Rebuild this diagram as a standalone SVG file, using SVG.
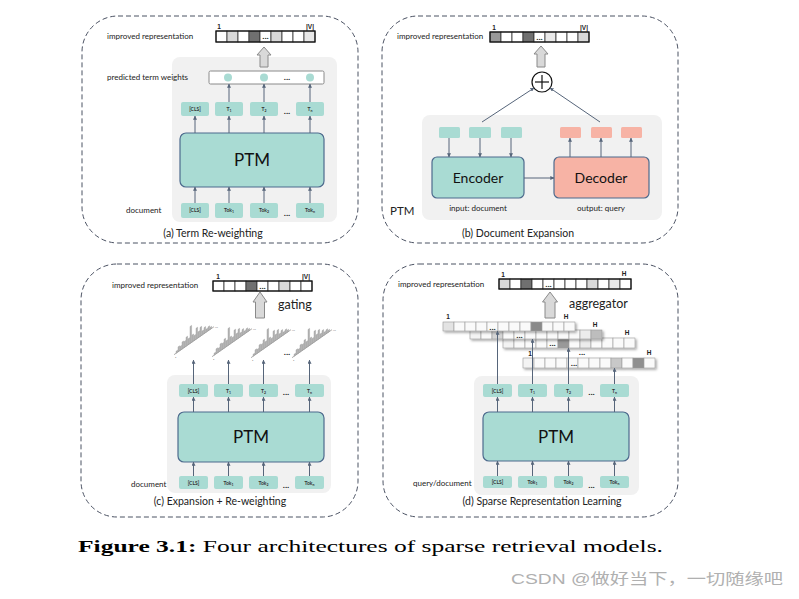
<svg xmlns="http://www.w3.org/2000/svg" xmlns:xlink="http://www.w3.org/1999/xlink" width="799" height="599" viewBox="0 0 799 599">
<defs>
<style>
.frame{fill:none;stroke:#4b5263;stroke-width:1;stroke-dasharray:5 3}
.bg{fill:#f1f1f1}
.tok{fill:#a9dbd3}
.ptm{fill:#a9dbd3;stroke:#4d6a8d;stroke-width:1.2}
.dec{fill:#f7b3a5;stroke:#4d6a8d;stroke-width:1.2}
.pk{fill:#f7b3a5}
.t{font-family:Lato,"Liberation Sans",sans-serif;fill:#222}
.tt{font-family:Lato,"Liberation Sans",sans-serif;font-size:5px;font-weight:bold;fill:#333;text-anchor:middle}
.lab{font-family:Lato,"Liberation Sans",sans-serif;font-size:8px;fill:#222}
.cap{font-family:Lato,"Liberation Sans",sans-serif;font-size:10.5px;fill:#222;text-anchor:middle}
.big{font-family:Lato,"Liberation Sans",sans-serif;fill:#111;text-anchor:middle}
.cell{stroke:#333;stroke-width:0.8}
.w{fill:#fff}.g1{fill:#d9d9d9}.g2{fill:#707070}.g3{fill:#999}.g4{fill:#e8e8e8}
.dots{font-family:"Liberation Sans",sans-serif;font-size:8px;font-weight:bold;fill:#222;text-anchor:middle}
.num{font-family:"Liberation Sans",sans-serif;font-size:6.5px;font-weight:bold;fill:#222;text-anchor:middle}
.blk{fill:#d9d9d9;stroke:#8a8a8a;stroke-width:1}
.con{stroke:#56657a;stroke-width:1;fill:none;marker-end:url(#ah)}
.bar{fill:#b5b5b5;stroke:#8c8c8c;stroke-width:0.3}
.lcell{stroke:#9a9a9a;stroke-width:0.6}
</style>
<marker id="ah" viewBox="0 0 6 6" refX="5.5" refY="3" markerWidth="4" markerHeight="4" orient="auto" markerUnits="userSpaceOnUse">
<path d="M0,0 L6,3 L0,6 z" fill="#56657a"/>
</marker>
<filter id="sh" x="-5%" y="-30%" width="110%" height="180%">
<feDropShadow dx="1.5" dy="1.5" stdDeviation="1" flood-color="#000" flood-opacity="0.35"/>
</filter>
<g id="hist">
<g transform="skewY(-35)">
<line x1="-1" y1="0" x2="39" y2="0" stroke="#8c8c8c" stroke-width="0.6"/>
<rect class="bar" x="1" y="-2" width="1.6" height="2"/>
<rect class="bar" x="3" y="-5" width="1.6" height="5"/>
<rect class="bar" x="5" y="-4" width="1.6" height="4"/>
<rect class="bar" x="7" y="-7" width="1.6" height="7"/>
<rect class="bar" x="9" y="-6" width="1.6" height="6"/>
<rect class="bar" x="11" y="-9" width="1.6" height="9"/>
<rect class="bar" x="13" y="-6" width="1.6" height="6"/>
<rect class="bar" x="15" y="-17" width="1.6" height="17"/>
<rect class="bar" x="17" y="-7" width="1.6" height="7"/>
<rect class="bar" x="19" y="-5" width="1.6" height="5"/>
<rect class="bar" x="21" y="-11" width="1.6" height="11"/>
<rect class="bar" x="23" y="-6" width="1.6" height="6"/>
<rect class="bar" x="25" y="-9" width="1.6" height="9"/>
<rect class="bar" x="27" y="-4" width="1.6" height="4"/>
<rect class="bar" x="29" y="-6" width="1.6" height="6"/>
<rect class="bar" x="31" y="-3" width="1.6" height="3"/>
<rect class="bar" x="33" y="-4" width="1.6" height="4"/>
<rect class="bar" x="35" y="-2" width="1.6" height="2"/>
</g>
<text x="0" y="4" font-family="Liberation Sans,sans-serif" font-size="2.5" fill="#555">1</text>
<text x="40" y="-26" font-family="Liberation Sans,sans-serif" font-size="2.5" fill="#555">|V|</text>
</g>
</defs>

<rect width="799" height="599" fill="#fff"/>

<!-- Panel frames -->
<g id="panel-a-frame"><rect class="frame" x="82" y="16" width="276" height="227" rx="36"/></g>
<g id="panel-b-frame"><rect class="frame" x="382" y="16" width="296" height="227" rx="36"/></g>
<g id="panel-c-frame"><rect class="frame" x="81" y="264" width="277" height="253" rx="36"/></g>
<g id="panel-d-frame"><rect class="frame" x="383" y="264" width="295" height="253" rx="36"/></g>

<!-- Gray backgrounds -->
<rect class="bg" x="172" y="57" width="165" height="165" rx="8"/>
<rect class="bg" x="422" y="115" width="240" height="105" rx="8"/>
<rect class="bg" x="167" y="375" width="164" height="118" rx="8"/>
<rect class="bg" x="474" y="376" width="165" height="119" rx="8"/>

<!-- ===== Panel (a) ===== -->
<g id="a-vector">
<text class="lab" x="107" y="39">improved representation</text>
<rect class="cell w" x="216" y="31" width="11" height="11"/>
<rect class="cell g1" x="227" y="31" width="11" height="11"/>
<rect class="cell w" x="238" y="31" width="11" height="11"/>
<rect class="cell g2" x="249" y="31" width="11" height="11"/>
<rect class="cell w" x="260" y="31" width="11" height="11"/>
<text class="dots" x="265.5" y="39">...</text>
<rect class="cell g1" x="271" y="31" width="11" height="11"/>
<rect class="cell w" x="282" y="31" width="11" height="11"/>
<rect class="cell w" x="293" y="31" width="11" height="11"/>
<rect class="cell g4" x="304" y="31" width="11" height="11"/>
<rect x="216" y="31" width="99" height="11" fill="none" stroke="#111" stroke-width="1.2"/>
<text class="num" x="219" y="28.5">1</text>
<text class="num" x="310" y="28.5">|V|</text>
<path class="blk" d="M264,47 L271,55 L268,55 L268,67 L260,67 L260,55 L257,55 Z"/>
</g>
<g id="a-weights">
<text class="lab" x="107" y="80">predicted term weights</text>
<rect x="209" y="71" width="115" height="13" rx="1.5" fill="#fff" stroke="#8a8a8a" stroke-width="1"/>
<circle cx="228" cy="77.5" r="4" fill="#a9dbd3"/>
<circle cx="264" cy="77.5" r="4" fill="#a9dbd3"/>
<circle cx="310" cy="77.5" r="4" fill="#a9dbd3"/>
<text class="dots" x="287" y="80">...</text>
</g>
<g id="a-top-tokens">
<rect class="tok" x="181" y="102" width="28" height="14" rx="2"/><text class="tt" x="195" y="111">[CLS]</text>
<rect class="tok" x="215" y="102" width="28" height="14" rx="2"/><text class="tt" x="229" y="111">T<tspan font-size="3.5" dy="1">1</tspan></text>
<rect class="tok" x="250" y="102" width="28" height="14" rx="2"/><text class="tt" x="264" y="111">T<tspan font-size="3.5" dy="1">2</tspan></text>
<text class="dots" x="287" y="114">...</text>
<rect class="tok" x="296" y="102" width="28" height="14" rx="2"/><text class="tt" x="310" y="111">T<tspan font-size="3.5" dy="1">n</tspan></text>
</g>
<g id="a-ptm">
<rect class="ptm" x="180" y="133" width="144" height="54" rx="6"/>
<text class="big" x="252" y="166" font-size="17">PTM</text>
</g>
<g id="a-bottom-tokens">
<text class="lab" x="126" y="213">document</text>
<rect class="tok" x="181" y="203" width="28" height="15" rx="2"/><text class="tt" x="195" y="212">[CLS]</text>
<rect class="tok" x="215" y="203" width="28" height="15" rx="2"/><text class="tt" x="229" y="212">Tok<tspan font-size="3.5" dy="1">1</tspan></text>
<rect class="tok" x="250" y="203" width="28" height="15" rx="2"/><text class="tt" x="264" y="212">Tok<tspan font-size="3.5" dy="1">2</tspan></text>
<text class="dots" x="287" y="216">...</text>
<rect class="tok" x="296" y="203" width="28" height="15" rx="2"/><text class="tt" x="310" y="212">Tok<tspan font-size="3.5" dy="1">n</tspan></text>
</g>
<text class="cap" x="213" y="237">(a) Term Re-weighting</text>

<!-- ===== Panel (b) ===== -->
<g id="b-vector">
<text class="lab" x="397" y="39">improved representation</text>
<rect class="cell g3" x="490" y="32" width="11" height="10"/>
<rect class="cell w" x="501" y="32" width="11" height="10"/>
<rect class="cell w" x="512" y="32" width="11" height="10"/>
<rect class="cell g2" x="523" y="32" width="11" height="10"/>
<rect class="cell w" x="534" y="32" width="11" height="10"/>
<text class="dots" x="539.5" y="39.5">...</text>
<rect class="cell g4" x="545" y="32" width="11" height="10"/>
<rect class="cell w" x="556" y="32" width="11" height="10"/>
<rect class="cell w" x="567" y="32" width="11" height="10"/>
<rect class="cell g1" x="578" y="32" width="11" height="10"/>
<rect x="490" y="32" width="99" height="10" fill="none" stroke="#111" stroke-width="1.2"/>
<text class="num" x="494" y="29.5">1</text>
<text class="num" x="584" y="29.5">|V|</text>
<path class="blk" d="M541,46 L548,54 L545,54 L545,67 L537,67 L537,54 L534,54 Z"/>
</g>
<g id="b-plus">
<circle cx="542" cy="82" r="10" fill="#fff" stroke="#111" stroke-width="1.2"/>
<line x1="535" y1="82" x2="549" y2="82" stroke="#111" stroke-width="1.2"/>
<line x1="542" y1="75" x2="542" y2="89" stroke="#111" stroke-width="1.2"/>
</g>
<g id="b-enc-tokens">
<rect class="tok" x="439" y="127" width="21" height="11" rx="1.5"/>
<rect class="tok" x="469" y="127" width="22" height="11" rx="1.5"/>
<rect class="tok" x="501" y="127" width="21" height="11" rx="1.5"/>
</g>
<g id="b-dec-tokens">
<rect class="pk" x="560" y="127" width="21" height="11" rx="1.5"/>
<rect class="pk" x="591" y="127" width="21" height="11" rx="1.5"/>
<rect class="pk" x="621" y="127" width="21" height="11" rx="1.5"/>
</g>
<g id="b-encoder">
<rect class="ptm" x="432" y="157" width="92" height="41" rx="5"/>
<text class="big" x="478" y="183" font-size="14">Encoder</text>
<text class="lab" x="478" y="211" text-anchor="middle" font-size="7.5">input: document</text>
</g>
<g id="b-decoder">
<rect class="dec" x="554" y="157" width="95" height="41" rx="5"/>
<text class="big" x="601" y="183" font-size="14">Decoder</text>
<text class="lab" x="601" y="211" text-anchor="middle" font-size="7.5">output: query</text>
</g>
<text class="t" x="390" y="215" font-size="11.5">PTM</text>
<text class="cap" x="518" y="237">(b) Document Expansion</text>

<!-- ===== Panel (c) ===== -->
<g id="c-vector">
<text class="lab" x="112" y="288">improved representation</text>
<rect class="cell w" x="213" y="281" width="11" height="10"/>
<rect class="cell w" x="224" y="281" width="11" height="10"/>
<rect class="cell w" x="235" y="281" width="11" height="10"/>
<rect class="cell g2" x="246" y="281" width="11" height="10"/>
<rect class="cell w" x="257" y="281" width="11" height="10"/>
<text class="dots" x="262.5" y="288.5">...</text>
<rect class="cell w" x="268" y="281" width="11" height="10"/>
<rect class="cell g1" x="279" y="281" width="11" height="10"/>
<rect class="cell w" x="290" y="281" width="11" height="10"/>
<rect class="cell w" x="301" y="281" width="11" height="10"/>
<rect x="213" y="281" width="99" height="10" fill="none" stroke="#111" stroke-width="1.2"/>
<text class="num" x="218" y="278.5">1</text>
<text class="num" x="306" y="278.5">|V|</text>
<path class="blk" d="M260,292 L267,302 L264.5,302 L264.5,318 L255.5,318 L255.5,302 L253,302 Z"/>
<text class="t" x="278" y="309" font-size="12.5">gating</text>
</g>
<g id="c-histograms">
<use xlink:href="#hist" href="#hist" transform="translate(175,354)"/>
<use xlink:href="#hist" href="#hist" transform="translate(213,356)"/>
<use xlink:href="#hist" href="#hist" transform="translate(252,357)"/>
<text class="dots" x="287" y="355">...</text>
<use xlink:href="#hist" href="#hist" transform="translate(293,357)"/>
</g>
<g id="c-top-tokens">
<rect class="tok" x="179" y="384" width="29" height="13" rx="2"/><text class="tt" x="193.5" y="392.5">[CLS]</text>
<rect class="tok" x="214" y="384" width="29" height="13" rx="2"/><text class="tt" x="228.5" y="392.5">T<tspan font-size="3.5" dy="1">1</tspan></text>
<rect class="tok" x="249" y="384" width="29" height="13" rx="2"/><text class="tt" x="263.5" y="392.5">T<tspan font-size="3.5" dy="1">2</tspan></text>
<text class="dots" x="286" y="395">...</text>
<rect class="tok" x="295" y="384" width="29" height="13" rx="2"/><text class="tt" x="309.5" y="392.5">T<tspan font-size="3.5" dy="1">n</tspan></text>
</g>
<g id="c-ptm">
<rect class="ptm" x="178" y="412" width="146" height="50" rx="6"/>
<text class="big" x="251" y="443" font-size="17">PTM</text>
</g>
<g id="c-bottom-tokens">
<text class="lab" x="131" y="487">document</text>
<rect class="tok" x="179" y="476" width="29" height="13" rx="2"/><text class="tt" x="193.5" y="484.5">[CLS]</text>
<rect class="tok" x="214" y="476" width="29" height="13" rx="2"/><text class="tt" x="228.5" y="484.5">Tok<tspan font-size="3.5" dy="1">1</tspan></text>
<rect class="tok" x="249" y="476" width="29" height="13" rx="2"/><text class="tt" x="263.5" y="484.5">Tok<tspan font-size="3.5" dy="1">2</tspan></text>
<text class="dots" x="286" y="488">...</text>
<rect class="tok" x="295" y="476" width="29" height="13" rx="2"/><text class="tt" x="309.5" y="484.5">Tok<tspan font-size="3.5" dy="1">n</tspan></text>
</g>
<text class="cap" x="220" y="505">(c) Expansion + Re-weighting</text>

<!-- ===== Panel (d) ===== -->
<g id="d-vector">
<text class="lab" x="398" y="287">improved representation</text>
<rect class="cell g1" x="499" y="279" width="11" height="10"/>
<rect class="cell w" x="510" y="279" width="11" height="10"/>
<rect class="cell g2" x="521" y="279" width="11" height="10"/>
<rect class="cell w" x="532" y="279" width="11" height="10"/>
<rect class="cell w" x="543" y="279" width="11" height="10"/>
<text class="dots" x="548.5" y="286.5">...</text>
<rect class="cell w" x="554" y="279" width="11" height="10"/>
<rect class="cell w" x="565" y="279" width="11" height="10"/>
<rect class="cell w" x="576" y="279" width="11" height="10"/>
<rect class="cell g1" x="587" y="279" width="11" height="10"/>
<rect class="cell w" x="598" y="279" width="11" height="10"/>
<rect class="cell g4" x="609" y="279" width="11" height="10"/>
<rect class="cell w" x="620" y="279" width="11" height="10"/>
<rect x="499" y="279" width="132" height="10" fill="none" stroke="#111" stroke-width="1.2"/>
<text class="num" x="503" y="276.5">1</text>
<text class="num" x="624" y="276" fill="#3a2020">H</text>
<path class="blk" d="M550,292 L557.5,302 L555,302 L555,318 L545,318 L545,302 L542.5,302 Z"/>
<text class="t" x="569" y="308" font-size="12.5">aggregator</text>
</g>
<g id="d-layers">
<g id="layer4" filter="url(#sh)">
<rect x="523" y="358" width="132" height="10" fill="#fafafa"/>
<rect class="lcell" x="523" y="358" width="11" height="10" fill="#f3f3f3"/>
<rect class="lcell" x="534" y="358" width="11" height="10" fill="#fafafa"/>
<rect class="lcell" x="545" y="358" width="11" height="10" fill="#fafafa"/>
<rect class="lcell" x="556" y="358" width="11" height="10" fill="#fafafa"/>
<rect class="lcell" x="567" y="358" width="11" height="10" fill="#fafafa"/>
<rect class="lcell" x="578" y="358" width="11" height="10" fill="#fafafa"/>
<rect class="lcell" x="589" y="358" width="11" height="10" fill="#fafafa"/>
<rect class="lcell" x="600" y="358" width="11" height="10" fill="#fafafa"/>
<rect class="lcell" x="611" y="358" width="11" height="10" fill="#c8c8c8"/>
<rect class="lcell" x="622" y="358" width="11" height="10" fill="#fafafa"/>
<rect class="lcell" x="633" y="358" width="11" height="10" fill="#8f8f8f"/>
<rect class="lcell" x="644" y="358" width="11" height="10" fill="#fafafa"/>
</g>
<text class="dots" x="574" y="366" font-size="7">...</text>
<text class="dots" x="582" y="355" font-size="7">...</text>
<text class="num" x="530" y="356">1</text>
<text class="num" x="649" y="355" fill="#3a2020">H</text>
<g id="layer3" filter="url(#sh)">
<rect class="lcell" x="503" y="338" width="11" height="10" fill="#f3f3f3"/>
<rect class="lcell" x="514" y="338" width="11" height="10" fill="#fafafa"/>
<rect class="lcell" x="525" y="338" width="11" height="10" fill="#fafafa"/>
<rect class="lcell" x="536" y="338" width="11" height="10" fill="#fafafa"/>
<rect class="lcell" x="547" y="338" width="11" height="10" fill="#fafafa"/>
<rect class="lcell" x="558" y="338" width="11" height="10" fill="#999"/>
<rect class="lcell" x="569" y="338" width="11" height="10" fill="#fafafa"/>
<rect class="lcell" x="580" y="338" width="11" height="10" fill="#ececec"/>
<rect class="lcell" x="591" y="338" width="11" height="10" fill="#fafafa"/>
<rect class="lcell" x="602" y="338" width="11" height="10" fill="#fafafa"/>
<rect class="lcell" x="613" y="338" width="11" height="10" fill="#fafafa"/>
<rect class="lcell" x="624" y="338" width="11" height="10" fill="#fafafa"/>
</g>
<text class="dots" x="552.5" y="346" font-size="7">...</text>
<text class="num" x="627" y="335" fill="#3a2020">H</text>
<g id="layer2" filter="url(#sh)">
<rect class="lcell" x="470" y="330" width="11" height="9" fill="#f3f3f3"/>
<rect class="lcell" x="481" y="330" width="11" height="9" fill="#fafafa"/>
<rect class="lcell" x="492" y="330" width="11" height="9" fill="#d5d5d5"/>
<rect class="lcell" x="503" y="330" width="11" height="9" fill="#fafafa"/>
<rect class="lcell" x="514" y="330" width="11" height="9" fill="#fafafa"/>
<rect class="lcell" x="525" y="330" width="11" height="9" fill="#fafafa"/>
<rect class="lcell" x="536" y="330" width="11" height="9" fill="#fafafa"/>
<rect class="lcell" x="547" y="330" width="11" height="9" fill="#fafafa"/>
<rect class="lcell" x="558" y="330" width="11" height="9" fill="#fafafa"/>
<rect class="lcell" x="569" y="330" width="11" height="9" fill="#fafafa"/>
<rect class="lcell" x="580" y="330" width="11" height="9" fill="#ececec"/>
<rect class="lcell" x="591" y="330" width="11" height="9" fill="#bdbdbd"/>
</g>
<text class="dots" x="519.5" y="337.5" font-size="7">...</text>
<text class="num" x="595" y="327" fill="#3a2020">H</text>
<g id="layer1" filter="url(#sh)">
<rect class="lcell" x="443" y="322" width="11" height="9" fill="#e3e3e3"/>
<rect class="lcell" x="454" y="322" width="11" height="9" fill="#fafafa"/>
<rect class="lcell" x="465" y="322" width="11" height="9" fill="#fafafa"/>
<rect class="lcell" x="476" y="322" width="11" height="9" fill="#fafafa"/>
<rect class="lcell" x="487" y="322" width="11" height="9" fill="#fafafa"/>
<rect class="lcell" x="498" y="322" width="11" height="9" fill="#fafafa"/>
<rect class="lcell" x="509" y="322" width="11" height="9" fill="#fafafa"/>
<rect class="lcell" x="520" y="322" width="11" height="9" fill="#fafafa"/>
<rect class="lcell" x="531" y="322" width="11" height="9" fill="#8a8a8a"/>
<rect class="lcell" x="542" y="322" width="11" height="9" fill="#fafafa"/>
<rect class="lcell" x="553" y="322" width="11" height="9" fill="#fafafa"/>
<rect class="lcell" x="564" y="322" width="11" height="9" fill="#fafafa"/>
</g>
<text class="dots" x="492.5" y="329.5" font-size="7">...</text>
<text class="num" x="448" y="319">1</text>
<text class="num" x="566" y="319" fill="#3a2020">H</text>
</g>
<g id="d-top-tokens">
<rect class="tok" x="483" y="384" width="29" height="13" rx="2"/><text class="tt" x="497.5" y="392.5">[CLS]</text>
<rect class="tok" x="518" y="384" width="29" height="13" rx="2"/><text class="tt" x="532.5" y="392.5">T<tspan font-size="3.5" dy="1">1</tspan></text>
<rect class="tok" x="554" y="384" width="29" height="13" rx="2"/><text class="tt" x="568.5" y="392.5">T<tspan font-size="3.5" dy="1">2</tspan></text>
<text class="dots" x="591.5" y="395">...</text>
<rect class="tok" x="600" y="384" width="29" height="13" rx="2"/><text class="tt" x="614.5" y="392.5">T<tspan font-size="3.5" dy="1">n</tspan></text>
</g>
<g id="d-ptm">
<rect class="ptm" x="483" y="412" width="146" height="49" rx="6"/>
<text class="big" x="556" y="443" font-size="17">PTM</text>
</g>
<g id="d-bottom-tokens">
<text class="lab" x="413" y="486">query/document</text>
<rect class="tok" x="483" y="476" width="29" height="12" rx="2"/><text class="tt" x="497.5" y="484">[CLS]</text>
<rect class="tok" x="518" y="476" width="29" height="12" rx="2"/><text class="tt" x="532.5" y="484">Tok<tspan font-size="3.5" dy="1">1</tspan></text>
<rect class="tok" x="554" y="476" width="29" height="12" rx="2"/><text class="tt" x="568.5" y="484">Tok<tspan font-size="3.5" dy="1">2</tspan></text>
<text class="dots" x="591.5" y="488">...</text>
<rect class="tok" x="600" y="476" width="29" height="12" rx="2"/><text class="tt" x="614.5" y="484">Tok<tspan font-size="3.5" dy="1">n</tspan></text>
</g>
<text class="cap" x="542" y="505">(d) Sparse Representation Learning</text>

<!-- Connectors -->
<g id="connectors">
<!-- (a) -->
<line class="con" x1="195" y1="203" x2="195" y2="187"/>
<line class="con" x1="229" y1="203" x2="229" y2="187"/>
<line class="con" x1="264" y1="203" x2="264" y2="187"/>
<line class="con" x1="310" y1="203" x2="310" y2="187"/>
<line class="con" x1="195" y1="133" x2="195" y2="116"/>
<line class="con" x1="229" y1="133" x2="229" y2="116"/>
<line class="con" x1="264" y1="133" x2="264" y2="116"/>
<line class="con" x1="310" y1="133" x2="310" y2="116"/>
<line class="con" x1="229" y1="102" x2="229" y2="84"/>
<line class="con" x1="264" y1="102" x2="264" y2="84"/>
<line class="con" x1="310" y1="102" x2="310" y2="84"/>
<!-- (b) -->
<line class="con" x1="482" y1="122" x2="534" y2="88"/>
<line class="con" x1="600" y1="122" x2="550" y2="88"/>
<line class="con" x1="449" y1="138" x2="449" y2="157"/>
<line class="con" x1="480" y1="138" x2="480" y2="157"/>
<line class="con" x1="511" y1="138" x2="511" y2="157"/>
<line class="con" x1="570" y1="157" x2="570" y2="138"/>
<line class="con" x1="601" y1="157" x2="601" y2="138"/>
<line class="con" x1="631" y1="157" x2="631" y2="138"/>
<line class="con" x1="524" y1="178" x2="554" y2="178"/>
<!-- (c) -->
<line class="con" x1="193.5" y1="476" x2="193.5" y2="462"/>
<line class="con" x1="228.5" y1="476" x2="228.5" y2="462"/>
<line class="con" x1="263.5" y1="476" x2="263.5" y2="462"/>
<line class="con" x1="309.5" y1="476" x2="309.5" y2="462"/>
<line class="con" x1="193.5" y1="412" x2="193.5" y2="397"/>
<line class="con" x1="228.5" y1="412" x2="228.5" y2="397"/>
<line class="con" x1="263.5" y1="412" x2="263.5" y2="397"/>
<line class="con" x1="309.5" y1="412" x2="309.5" y2="397"/>
<line class="con" x1="193.5" y1="384" x2="193.5" y2="360"/>
<line class="con" x1="228.5" y1="384" x2="228.5" y2="360"/>
<line class="con" x1="263.5" y1="384" x2="263.5" y2="360"/>
<line class="con" x1="309.5" y1="384" x2="309.5" y2="360"/>
<!-- (d) -->
<line class="con" x1="497.5" y1="476" x2="497.5" y2="461"/>
<line class="con" x1="532.5" y1="476" x2="532.5" y2="461"/>
<line class="con" x1="568.5" y1="476" x2="568.5" y2="461"/>
<line class="con" x1="614.5" y1="476" x2="614.5" y2="461"/>
<line class="con" x1="497.5" y1="412" x2="497.5" y2="397"/>
<line class="con" x1="532.5" y1="412" x2="532.5" y2="397"/>
<line class="con" x1="568.5" y1="412" x2="568.5" y2="397"/>
<line class="con" x1="614.5" y1="412" x2="614.5" y2="397"/>
<line class="con" x1="497.5" y1="384" x2="497.5" y2="331"/>
<line class="con" x1="532.5" y1="384" x2="532.5" y2="339"/>
<line class="con" x1="568.5" y1="384" x2="568.5" y2="348"/>
<line class="con" x1="614.5" y1="384" x2="614.5" y2="368"/>
</g>

<!-- Figure caption -->
<text x="78" y="552" font-family="'Liberation Serif',serif" font-size="17.5" fill="#000" textLength="585" lengthAdjust="spacingAndGlyphs"><tspan font-weight="bold">Figure 3.1:</tspan> Four architectures of sparse retrieval models.</text>
<text x="511" y="584" font-family="'Liberation Sans','Noto Sans CJK SC',sans-serif" font-size="15" fill="#b0b0b0" textLength="272" lengthAdjust="spacingAndGlyphs">CSDN @做好当下，一切随缘吧</text>
</svg>
